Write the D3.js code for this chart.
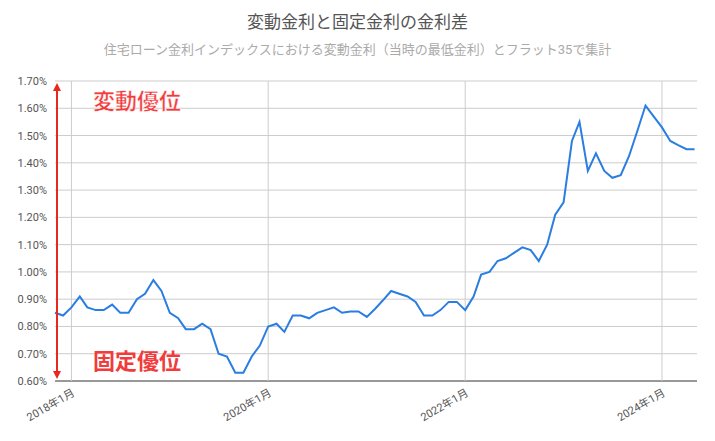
<!DOCTYPE html>
<html><head><meta charset="utf-8">
<script src="https://cdn.jsdelivr.net/npm/d3@7"></script>
<style>body{margin:0;background:#fff;font-family:Roboto,"Noto Sans CJK JP",sans-serif}</style>
</head><body><div id="chart"></div>
<script>
// monthly spread, starting 2017-11
var startMonth = new Date(2017, 10, 1);
var values = [0.85,0.84,0.87,0.91,0.87,0.86,0.86,0.88,0.85,0.85,0.90,0.92,0.97,0.93,
  0.85,0.83,0.79,0.79,0.81,0.79,0.70,0.69,0.63,0.63,0.69,0.73,
  0.80,0.81,0.78,0.84,0.84,0.83,0.85,0.86,0.87,0.85,0.855,0.855,
  0.835,0.865,0.895,0.93,0.92,0.91,0.89,0.84,0.84,0.86,0.89,0.89,
  0.86,0.91,0.99,1.00,1.04,1.05,1.07,1.09,1.08,1.04,1.10,1.21,
  1.255,1.48,1.55,1.37,1.435,1.37,1.345,1.355,1.425,1.515,1.61,1.57,
  1.53,1.48,1.465,1.45,1.45];
var yTicks = [0.6,0.7,0.8,0.9,1.0,1.1,1.2,1.3,1.4,1.5,1.6,1.7];
var xTicks = [new Date(2018,0,1), new Date(2020,0,1), new Date(2022,0,1), new Date(2024,0,1)];

var data = values.map(function(v, i) {
  return {date: new Date(startMonth.getFullYear(), startMonth.getMonth() + i, 1), value: v};
});

var svgWidth = 715, svgHeight = 441;
var margin = {top: 81, right: 18, bottom: 60, left: 55};
var width = svgWidth - margin.left - margin.right;
var height = svgHeight - margin.top - margin.bottom;

var svg = d3.select("#chart").append("svg")
  .attr("width", svgWidth).attr("height", svgHeight);

svg.append("text").attr("x", svgWidth / 2).attr("y", 28)
  .attr("text-anchor", "middle").attr("font-size", "17px").attr("fill", "#555")
  .text("変動金利と固定金利の金利差");
svg.append("text").attr("x", svgWidth / 2).attr("y", 54)
  .attr("text-anchor", "middle").attr("font-size", "13px").attr("fill", "#aaa")
  .text("住宅ローン金利インデックスにおける変動金利（当時の最低金利）とフラット35で集計");

var g = svg.append("g").attr("transform", `translate(${margin.left}, ${margin.top})`);

var x = d3.scaleTime().domain([startMonth, new Date(2024, 4, 10)]).range([0, width]);
var y = d3.scaleLinear().domain([0.6, 1.7]).range([height, 0]);

g.selectAll(".hgrid").data(yTicks).enter().append("line")
  .attr("x1", 0).attr("x2", width)
  .attr("y1", d => y(d)).attr("y2", d => y(d))
  .attr("stroke", d => d === 0.6 ? "#333" : "#ccc").attr("stroke-width", 1);
g.selectAll(".vgrid").data(xTicks).enter().append("line")
  .attr("x1", d => x(d)).attr("x2", d => x(d))
  .attr("y1", 0).attr("y2", height).attr("stroke", "#ccc");

g.selectAll(".ylab").data(yTicks).enter().append("text")
  .attr("x", -8).attr("y", d => y(d) + 4).attr("text-anchor", "end")
  .attr("font-size", "11px").attr("fill", "#555")
  .text(d => d.toFixed(2) + "%");

g.selectAll(".xlab").data(xTicks).enter().append("text")
  .attr("transform", d => `translate(${x(d) + 4}, ${height + 14}) rotate(-30)`)
  .attr("text-anchor", "end").attr("font-size", "11px").attr("fill", "#555")
  .text(d => d.getFullYear() + "年1月");

var line = d3.line().x(d => x(d.date)).y(d => y(d.value));
g.append("path").datum(data).attr("d", line)
  .attr("fill", "none").attr("stroke", "#2a7de1").attr("stroke-width", 2);

// red arrow
var defs = svg.append("defs");
defs.append("marker").attr("id", "ah").attr("viewBox", "0 0 10 10")
  .attr("refX", 5).attr("refY", 5).attr("markerWidth", 4).attr("markerHeight", 4)
  .attr("orient", "auto-start-reverse")
  .append("path").attr("d", "M0,0L10,5L0,10z").attr("fill", "#e8281e");
g.append("line").attr("x1", 2).attr("x2", 2).attr("y1", 6).attr("y2", height - 6)
  .attr("stroke", "#e8281e").attr("stroke-width", 2)
  .attr("marker-start", "url(#ah)").attr("marker-end", "url(#ah)");

g.append("text").attr("x", 38).attr("y", 28).attr("font-size", "22px")
  .attr("font-weight", "bold").attr("fill", "#f23b3b").attr("stroke", "#fff").attr("stroke-width", 0.5)
  .text("変動優位");
g.append("text").attr("x", 38).attr("y", 288).attr("font-size", "22px")
  .attr("font-weight", "bold").attr("fill", "#f23b3b")
  .text("固定優位");
</script></body></html>
